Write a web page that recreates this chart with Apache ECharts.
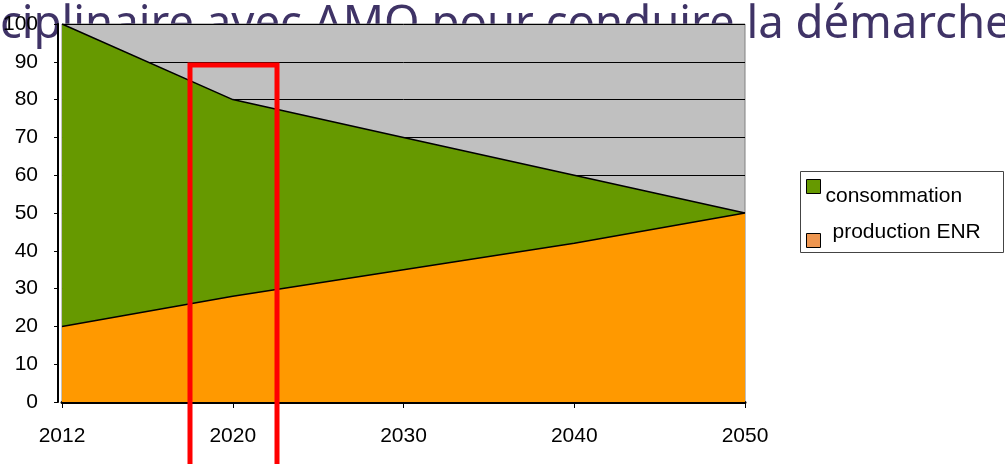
<!DOCTYPE html>
<html><head><meta charset="utf-8">
<script src="https://cdn.jsdelivr.net/npm/echarts@6/dist/echarts.min.js"></script>
<style>html,body{margin:0;padding:0;background:#fff}#c{width:1005px;height:464px}</style>
</head><body><div id="c"></div>
<script>
const years = ['2012','2020','2030','2040','2050'];
const consommation = [100, 80, 70, 60, 50];
const productionENR = [20, 28, 35, 42, 50];
const yTicks = {min: 0, max: 100, interval: 10};
const titleText = 'ciplinaire avec AMO pour conduire la démarche';

const font = 'Liberation Sans, Arial, sans-serif';
const chart = echarts.init(document.getElementById('c'), null, {renderer: 'canvas'});
chart.setOption({
  animation: false,
  backgroundColor: 'transparent',
  grid: {left: 60, right: 260, top: 24, bottom: 62, show: true, backgroundColor: '#c0c0c0', borderColor: '#808080', borderWidth: 1},
  xAxis: {
    type: 'category', data: years, boundaryGap: false,
    axisLine: {lineStyle: {color: '#000', width: 3}},
    axisTick: {show: true, length: 6, lineStyle: {color: '#000', width: 1}},
    axisLabel: {color: '#000', fontSize: 21, fontFamily: font, margin: 24},
    splitLine: {show: false}
  },
  yAxis: {
    type: 'value', min: yTicks.min, max: yTicks.max, interval: yTicks.interval,
    offset: 4,
    axisLine: {show: true, lineStyle: {color: '#000', width: 2}},
    axisTick: {show: true, length: 4, lineStyle: {color: '#000'}},
    axisLabel: {color: '#000', fontSize: 21, fontFamily: font, margin: 20},
    splitLine: {show: true, lineStyle: {color: '#000', width: 1}}
  },
  legend: [
    {orient: 'vertical', left: 806, top: 179, padding: 0,
     itemWidth: 14, itemHeight: 14, itemGap: 4,
     formatter: n => '{a|' + n + '}',
     textStyle: {color: '#000', fontSize: 21, fontFamily: font,
       rich: {a: {fontSize: 21, fontFamily: font, color: '#000', padding: [19, 0, 0, 0]}}},
     data: [{name: 'consommation', icon: 'rect', itemStyle: {color: '#669900', borderColor: '#000', borderWidth: 1}}]},
    {orient: 'vertical', left: 806, top: 222, padding: 0,
     itemWidth: 14, itemHeight: 14, itemGap: 4,
     formatter: n => '{a|' + n + '}',
     textStyle: {color: '#000', fontSize: 21, fontFamily: font,
       rich: {a: {fontSize: 21, fontFamily: font, color: '#000', padding: [0, 0, 16, 7]}}},
     data: [{name: 'production ENR', icon: 'rect', itemStyle: {color: '#ee9650', borderColor: '#000', borderWidth: 1}}]}
  ],
  series: [
    {name: 'consommation', type: 'line', data: consommation, symbol: 'none',
     lineStyle: {color: '#000', width: 1.5}, itemStyle: {color: '#669900'},
     areaStyle: {color: '#669900', opacity: 1}, z: 2},
    {name: 'production ENR', type: 'line', data: productionENR, symbol: 'none',
     lineStyle: {color: '#000', width: 1.5}, itemStyle: {color: '#ff9900'},
     areaStyle: {color: '#ff9900', opacity: 1}, z: 3}
  ],
  graphic: [
    {type: 'text', left: 0, top: 2, zlevel: -1,
     style: {text: titleText, fill: '#3f3366', font: '45.5px "Noto Sans", sans-serif'}},
    {type: 'rect', z: 100, shape: {x: 800.5, y: 171.5, width: 203, height: 81},
     style: {fill: 'none', stroke: '#444', lineWidth: 1}},
    {type: 'rect', z: 100, shape: {x: 190, y: 65, width: 87, height: 420},
     style: {fill: 'none', stroke: '#ff0000', lineWidth: 5}}
  ]
});
</script></body></html>
